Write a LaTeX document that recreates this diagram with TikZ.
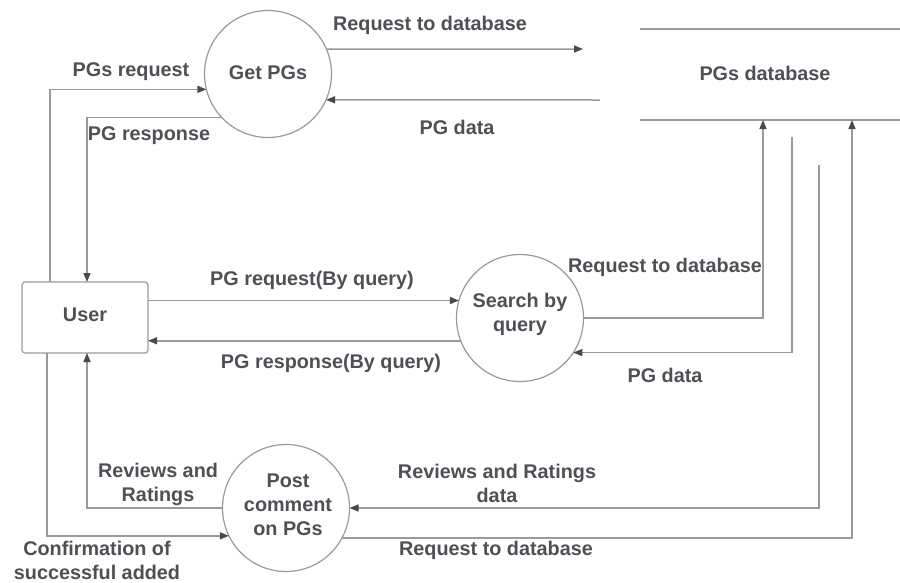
\documentclass[tikz,border=0pt]{standalone}
\usepackage{fontspec}
\setmainfont{Liberation Sans}
\usetikzlibrary{arrows.meta}
\definecolor{txt}{HTML}{4F4F55}
\definecolor{ln}{HTML}{9A9A9A}
\definecolor{tip}{HTML}{4A4A4A}
\tikzset{
  lbl/.style={font=\fontsize{19.8}{24}\selectfont\bfseries, text=txt, align=center, inner sep=0pt},
  proc/.style={circle, draw=ln, line width=1.2pt, minimum size=127pt, inner sep=0pt, outer sep=0pt, fill=white},
  entity/.style={rectangle, rounded corners=3pt, draw=ln, line width=1.2pt, minimum width=126pt, minimum height=71pt, outer sep=0pt},
  flow/.style={draw=ln, line width=1.5pt, -{Triangle[length=9pt,width=7pt,fill=tip,color=tip]}},
  store/.style={draw=ln, line width=2pt}
}
\begin{document}
\begin{tikzpicture}[x=1pt,y=-1pt]
\useasboundingbox (0,0) rectangle (900,582);
% nodes
\node[entity] (user) at (85,317.5) {};
\node[lbl] (userl) at (85,315) {User};
\node[proc] (getpg) at (268,74) {};
\node[lbl] (getpgl) at (268,73) {Get PGs};
\node[proc] (search) at (520,318) {};
\node[lbl] (searchl) at (520,314) {Search by\\query};
\node[proc] (post) at (286,508) {};
\node[lbl] (postl) at (288,505) {Post\\comment\\on PGs};
\node[minimum width=260pt, minimum height=91pt, inner sep=0pt, outer sep=0pt] (db) at (770,74.5) {};
\node[lbl] (dbl) at (765,73) {PGs database};
\draw[store] (db.north west) -- (db.north east);
\draw[store] (db.south west) -- (db.south east);
% free-end coordinates
\coordinate (topout) at (583,49);
\coordinate (topin) at (600,100);
\coordinate (s1) at (792,137);
\coordinate (s2) at (819,165);
% connectors
\draw[flow] ([xshift=28pt]user.north west) |- (getpg.194.5);
\draw[flow] (getpg.223.4) -| ([xshift=65pt]user.north west);
\draw[flow] (getpg.23) -- (topout);
\draw[flow] (topin) -- (getpg.336.1);
\draw[flow] (search.164.3 -| user.east) -- (search.164.3);
\draw[flow] (search.201.4) -- (search.201.4 -| user.east);
\draw[flow] (search.east) -| ([xshift=-7pt]db.south);
\draw[flow] (s1) |- (search.327.3);
\draw[flow] (s2) |- (post.east);
\draw[flow] (post.332.6) -| ([xshift=82pt]db.south);
\draw[flow] (post.west) -| ([xshift=65pt]user.south west);
\draw[flow] ([xshift=25pt]user.south west) |- (post.206.4);
% labels
\node[lbl] (l1) at (131,72) {PGs request};
\node[lbl] (l2) at (149,136) {PG response};
\node[lbl] (l3) at (430,25) {Request to database};
\node[lbl] (l4) at (457,127) {PG data};
\node[lbl] (l5) at (312,280) {PG request(By query)};
\node[lbl] (l6) at (331,363) {PG response(By query)};
\node[lbl] (l7) at (665,267) {Request to database};
\node[lbl] (l8) at (665,375) {PG data};
\node[lbl] (l9) at (158,484) {Reviews and\\Ratings};
\node[lbl] (l10) at (497,483) {Reviews and Ratings\\data};
\node[lbl] (l11) at (496,550) {Request to database};
\node[lbl] (l12) at (97,560) {Confirmation of\\successful added};
\end{tikzpicture}
\end{document}
